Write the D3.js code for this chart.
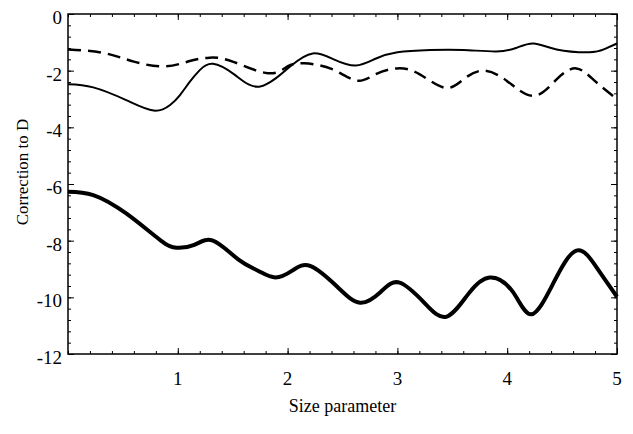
<!DOCTYPE html>
<html>
<head>
<meta charset="utf-8">
<script src="https://cdn.jsdelivr.net/npm/d3@7"></script>
<style>
  body { margin: 0; background: #fff; }
  svg { display: block; }
</style>
</head>
<body>
<svg width="633" height="434"></svg>
<script>
// Data.
const thinX = [0, 0.23, 0.53, 0.78, 0.93, 1.02, 1.11, 1.2, 1.32, 1.52, 1.75, 2.02, 2.23, 2.42, 2.62, 2.8, 3.0, 3.3, 3.6, 3.9, 4.08, 4.24, 4.45, 4.75, 4.88, 5.0];
const thinY = [-2.48, -2.59, -3.04, -3.41, -3.21, -2.86, -2.39, -1.98, -1.76, -2.15, -2.56, -1.86, -1.39, -1.6, -1.82, -1.58, -1.35, -1.27, -1.27, -1.32, -1.2, -1.04, -1.25, -1.35, -1.25, -1.04];

const dashX = [0, 0.32, 0.6, 0.88, 1.1, 1.29, 1.5, 1.82, 2.0, 2.15, 2.4, 2.63, 2.8, 3.0, 3.2, 3.43, 3.6, 3.78, 4.0, 4.24, 4.45, 4.63, 4.8, 5.0];
const dashY = [-1.25, -1.37, -1.68, -1.85, -1.67, -1.54, -1.68, -2.09, -1.85, -1.74, -1.94, -2.35, -2.13, -1.92, -2.12, -2.6, -2.31, -2.0, -2.37, -2.89, -2.31, -1.92, -2.37, -3.0];

const thickX = [0, 0.23, 0.53, 0.84, 0.99, 1.15, 1.32, 1.55, 1.73, 1.89, 2.05, 2.21, 2.45, 2.66, 2.85, 3.02, 3.25, 3.45, 3.65, 3.84, 4.05, 4.22, 4.42, 4.63, 4.82, 5.0];
const thickY = [-6.27, -6.39, -7.04, -7.98, -8.25, -8.15, -8.0, -8.66, -9.06, -9.3, -9.04, -8.9, -9.62, -10.19, -9.8, -9.48, -10.21, -10.68, -9.86, -9.3, -9.8, -10.6, -9.5, -8.35, -8.98, -9.98];

const xMajor = [1, 2, 3, 4, 5];
const yMajor = [0, -2, -4, -6, -8, -10, -12];
const xTitle = "Size parameter";
const yTitle = "Correction to D";

const svg = d3.select("svg");
const margin = { top: 14, right: 16, bottom: 80, left: 68 };
const width = +svg.attr("width");
const height = +svg.attr("height");
const plotW = width - margin.left - margin.right;
const plotH = height - margin.top - margin.bottom;
const font = "'Liberation Serif', 'Times New Roman', serif";

const xScale = d3.scaleLinear().domain([0, 5]).range([0, plotW]);
const yScale = d3.scaleLinear().domain([-12, 0]).range([plotH, 0]);

const g = svg.append("g").attr("transform", `translate(${margin.left},${margin.top})`);

// Minor tick positions
const xMinor = d3.range(0, 5.0001, 0.2).map(v => +v.toFixed(2));
const yMinor = d3.range(0, -12.0001, -0.4).map(v => +v.toFixed(2));

// Ticks on all four sides, pointing inward
function xTicks(sel, dir) {
  sel.append("g")
     .call(d3.axisBottom(xScale).tickValues(xMinor).tickSize(dir * 3).tickFormat(""))
     .call(a => a.select(".domain").remove());
  sel.append("g")
     .call(d3.axisBottom(xScale).tickValues(xMajor).tickSize(dir * 6).tickFormat(""))
     .call(a => a.select(".domain").remove());
}
function yTicks(sel, dir) {
  sel.append("g")
     .call(d3.axisLeft(yScale).tickValues(yMinor).tickSize(dir * 3).tickFormat(""))
     .call(a => a.select(".domain").remove());
  sel.append("g")
     .call(d3.axisLeft(yScale).tickValues(yMajor).tickSize(dir * 6).tickFormat(""))
     .call(a => a.select(".domain").remove());
}
xTicks(g.append("g").attr("transform", `translate(0,${plotH})`), -1);
xTicks(g.append("g"), 1);
yTicks(g.append("g"), -1);
yTicks(g.append("g").attr("transform", `translate(${plotW},0)`), 1);
g.selectAll(".tick line").attr("stroke", "#000").attr("stroke-width", 1);

// Frame
g.append("rect")
 .attr("width", plotW).attr("height", plotH)
 .attr("fill", "none").attr("stroke", "#000").attr("stroke-width", 1.5);

// Tick labels
g.selectAll(".xlab").data(xMajor).enter().append("text")
 .attr("x", d => xScale(d)).attr("y", plotH + 31)
 .attr("text-anchor", "middle")
 .style("font-family", font).style("font-size", "19px")
 .text(d => d);
g.selectAll(".ylab").data(yMajor).enter().append("text")
 .attr("x", -6).attr("y", d => yScale(d) + 10)
 .attr("text-anchor", "end")
 .style("font-family", font).style("font-size", "19px")
 .text(d => d);

// Axis titles
g.append("text")
 .attr("x", plotW / 2).attr("y", plotH + 58)
 .attr("text-anchor", "middle")
 .style("font-family", font).style("font-size", "18px")
 .text(xTitle);
g.append("text")
 .attr("transform", `translate(-40,${158}) rotate(-90)`)
 .attr("text-anchor", "middle")
 .style("font-family", font).style("font-size", "17px")
 .text(yTitle);

// Curves
const line = d3.line().x(d => xScale(d[0])).y(d => yScale(d[1])).curve(d3.curveNatural);

g.append("path").datum(d3.zip(dashX, dashY))
 .attr("fill", "none").attr("stroke", "#000").attr("stroke-width", 2.5)
 .attr("stroke-dasharray", "13,7")
 .attr("d", line);
g.append("path").datum(d3.zip(thinX, thinY))
 .attr("fill", "none").attr("stroke", "#000").attr("stroke-width", 2)
 .attr("d", line);
g.append("path").datum(d3.zip(thickX, thickY))
 .attr("fill", "none").attr("stroke", "#000").attr("stroke-width", 4)
 .attr("d", line);
</script>
</body>
</html>
